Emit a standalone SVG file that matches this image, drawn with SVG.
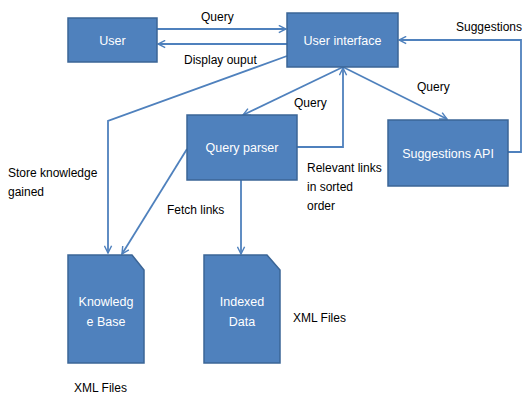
<svg xmlns="http://www.w3.org/2000/svg" width="528" height="407" viewBox="0 0 528 407">
<style>
.box{fill:#4F81BD;stroke:#3B6596;stroke-width:1.5}
.bt{fill:#fff;font-family:"Liberation Sans",Arial,sans-serif;font-size:12.5px;text-anchor:middle}
.lb{fill:#000;font-family:"Liberation Sans",Arial,sans-serif;font-size:12px}
.c{fill:none;stroke:#4F81BD;stroke-width:1.8;marker-end:url(#ah)}
</style>
<defs>
<marker id="ah" viewBox="0 0 10 10" refX="9" refY="5" markerWidth="9" markerHeight="9" markerUnits="userSpaceOnUse" orient="auto">
<path d="M1,1 L9,5 L1,9" fill="none" stroke="#4F81BD" stroke-width="1.6"/>
</marker>
</defs>
<rect width="528" height="407" fill="#fff"/>
<g id="connectors">
<path class="c" d="M157,29 H286"/>
<path class="c" d="M287,44 H158"/>
<path class="c" d="M287,56 L108,121 V253"/>
<path class="c" d="M343,67 L243,115"/>
<path class="c" d="M297,147 H343 V68"/>
<path class="c" d="M343,67 L447,119"/>
<path class="c" d="M508,152 H521 V40 H399"/>
<path class="c" d="M187,149 L122,254"/>
<path class="c" d="M241,180 V254"/>
</g>
<g id="user"><rect class="box" x="68" y="18" width="89" height="44"/><text class="bt" x="112.5" y="44.5">User</text></g>
<g id="ui"><rect class="box" x="287" y="13" width="111" height="54"/><text class="bt" x="342.5" y="44.5">User interface</text></g>
<g id="qp"><rect class="box" x="187" y="115" width="110" height="65"/><text class="bt" x="242" y="152">Query parser</text></g>
<g id="sapi"><rect class="box" x="388" y="120" width="120" height="66"/><text class="bt" x="448" y="157.5">Suggestions API</text></g>
<g id="kb"><path class="box" d="M68,255 H132 L144,270 V363 H68 Z"/><text class="bt" x="106" y="306">Knowledg</text><text class="bt" x="106" y="326">e Base</text></g>
<g id="idx"><path class="box" d="M204,255 H267 L280,270 V363 H204 Z"/><text class="bt" x="242" y="306">Indexed</text><text class="bt" x="242" y="326">Data</text></g>
<g id="labels">
<text class="lb" x="201" y="21">Query</text>
<text class="lb" x="184" y="64">Display ouput</text>
<text class="lb" x="456" y="31">Suggestions</text>
<text class="lb" x="417" y="91">Query</text>
<text class="lb" x="294" y="107">Query</text>
<text class="lb" x="307" y="172">Relevant links</text>
<text class="lb" x="307" y="191">in sorted</text>
<text class="lb" x="307" y="210">order</text>
<text class="lb" x="8" y="177">Store knowledge</text>
<text class="lb" x="8" y="196">gained</text>
<text class="lb" x="167" y="214">Fetch links</text>
<text class="lb" x="293" y="322">XML Files</text>
<text class="lb" x="74" y="392">XML Files</text>
</g>
</svg>
